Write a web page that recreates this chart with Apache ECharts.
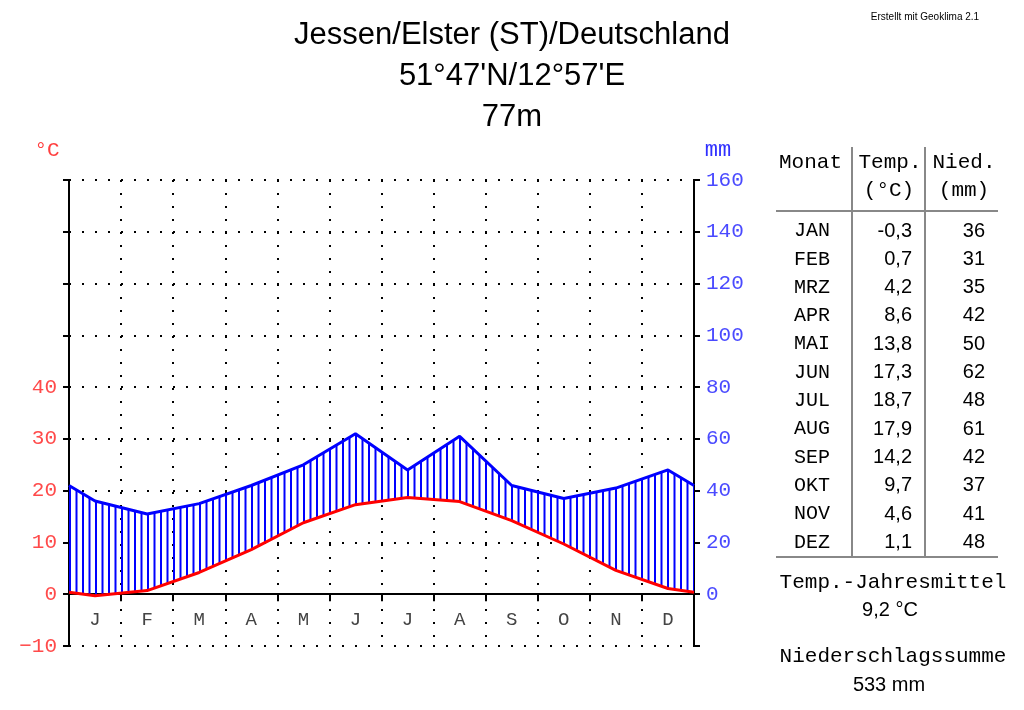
<!DOCTYPE html>
<html>
<head>
<meta charset="utf-8">
<script src="https://cdn.jsdelivr.net/npm/echarts@6/dist/echarts.min.js"></script>
<style>
  html, body { margin: 0; padding: 0; background: #fff; }
  #chart { width: 1024px; height: 710px; }
</style>
</head>
<body>
<div id="chart"></div>
<script>
// climate data (Walter-Lieth)
const monthLetters = ['J', 'F', 'M', 'A', 'M', 'J', 'J', 'A', 'S', 'O', 'N', 'D'];
const monthNames = ['JAN', 'FEB', 'MRZ', 'APR', 'MAI', 'JUN', 'JUL', 'AUG', 'SEP', 'OKT', 'NOV', 'DEZ'];
const temps = [-0.3, 0.7, 4.2, 8.6, 13.8, 17.3, 18.7, 17.9, 14.2, 9.7, 4.6, 1.1];
const precs = [36, 31, 35, 42, 50, 62, 48, 61, 42, 37, 41, 48];
// values at the left/right edge of the diagram
const edgeTemp = 0.4;
const edgePrec = 42;
const tempTicks = [-10, 0, 10, 20, 30, 40];

const mono = 'Liberation Mono';
const sans = 'Liberation Sans';

// x positions: edge, month centres, edge
function withEdges(vals, edge) {
  const out = [[0, edge]];
  vals.forEach((v, i) => out.push([i + 0.5, v]));
  out.push([12, edge]);
  return out;
}
const tempPts = withEdges(temps, edgeTemp);
const precPts = withEdges(precs.map(p => p / 2), edgePrec / 2); // 20 mm = 10 °C

// vertical hatch pattern
const hatch = document.createElement('canvas');
hatch.width = 13;
hatch.height = 4;
const hctx = hatch.getContext('2d');
hctx.fillStyle = '#0000ff';
hctx.fillRect(4, 0, 2, 4);
hctx.fillRect(10.5, 0, 2, 4);

const dotted = { color: '#000', width: 2, type: [2, 11], cap: 'butt' };

// table + summary text
const graphic = [];
function txt(x, y, text, font, size, align, color) {
  graphic.push({
    type: 'text', x: x, y: y,
    style: { text: text, fontFamily: font, fontSize: size, fill: color || '#000',
      align: align || 'center', verticalAlign: 'middle' }
  });
}
function line(x1, y1, x2, y2) {
  graphic.push({
    type: 'line', shape: { x1: x1, y1: y1, x2: x2, y2: y2 },
    style: { stroke: '#888', lineWidth: 2 }
  });
}
txt(47, 150, '°C', mono, 21, 'center', '#ff4040');
txt(718, 150, 'mm', mono, 22, 'center', '#3030ff');
txt(925, 17, 'Erstellt mit Geoklima 2.1', sans, 10);

txt(779, 162, 'Monat', mono, 21, 'left');
txt(890, 162, 'Temp.', mono, 21);
txt(964, 162, 'Nied.', mono, 21);
txt(889, 190, '(°C)', mono, 21);
txt(964, 190, '(mm)', mono, 21);
line(852, 147, 852, 557);
line(925, 147, 925, 557);
line(776, 211, 998, 211);
line(776, 557, 998, 557);
monthNames.forEach((m, i) => {
  const y = 231 + i * 28.3;
  txt(812, y, m, mono, 20);
  txt(912, y, temps[i].toFixed(1).replace('.', ','), sans, 20, 'right');
  txt(985, y, String(precs[i]), sans, 20, 'right');
});
const meanTemp = temps.reduce((a, b) => a + b, 0) / temps.length;
const sumPrec = precs.reduce((a, b) => a + b, 0);
txt(893, 582, 'Temp.-Jahresmittel', mono, 21);
txt(890, 610, meanTemp.toFixed(1).replace('.', ',') + ' °C', sans, 20);
txt(893, 656, 'Niederschlagssumme', mono, 21);
txt(889, 685, sumPrec + ' mm', sans, 20);

// hatched humid area between precipitation and temperature curves
function renderHumid(params, api) {
  if (params.dataIndex !== 0) return null;
  const pts = precPts.map(p => api.coord(p))
    .concat(tempPts.slice().reverse().map(p => api.coord(p)));
  return {
    type: 'polygon',
    shape: { points: pts },
    style: { fill: { image: hatch, repeat: 'repeat' }, stroke: null }
  };
}

const chart = echarts.init(document.getElementById('chart'));
chart.setOption({
  backgroundColor: '#fff',
  animation: false,
  title: {
    text: "Jessen/Elster (ST)/Deutschland\n51°47'N/12°57'E\n77m",
    left: 'center',
    top: 10,
    textStyle: { fontFamily: sans, fontSize: 31, fontWeight: 'normal', color: '#000', lineHeight: 41 }
  },
  grid: { left: 69, right: 330, top: 180, bottom: 64, containLabel: false },
  xAxis: [
    {
      type: 'value', min: 0, max: 12, interval: 1, position: 'bottom',
      axisLine: { show: true, onZero: true, lineStyle: { color: '#000', width: 2 } },
      axisTick: { show: true, length: 7, lineStyle: { color: '#000', width: 2 } },
      axisLabel: { show: false },
      splitLine: { show: false }
    },
    {
      type: 'category', position: 'bottom',
      data: monthLetters,
      boundaryGap: true,
      axisLine: { show: false },
      axisTick: { show: false },
      axisLabel: { inside: true, margin: 17, color: '#444', fontFamily: mono, fontSize: 19 },
      splitLine: { show: true, lineStyle: dotted }
    }
  ],
  yAxis: [
    {
      type: 'value', min: -10, max: 80, interval: 10,
      axisLine: { show: true, onZero: false, lineStyle: { color: '#000', width: 2 } },
      axisTick: { show: true, length: 6, lineStyle: { color: '#000', width: 2 } },
      axisLabel: {
        margin: 12, color: '#ff4a4a', fontFamily: mono, fontSize: 21,
        formatter: v => tempTicks.indexOf(v) >= 0 ? String(v).replace('-', '−') : ''
      },
      splitLine: { show: true, lineStyle: dotted }
    },
    {
      type: 'value', min: -20, max: 160, interval: 20, position: 'right',
      axisLine: { show: true, onZero: false, lineStyle: { color: '#000', width: 2 } },
      axisTick: { show: true, length: 6, lineStyle: { color: '#000', width: 2 } },
      axisLabel: {
        margin: 12, color: '#4a4aff', fontFamily: mono, fontSize: 21,
        formatter: v => v >= 0 ? String(v) : ''
      },
      splitLine: { show: false }
    }
  ],
  graphic: graphic,
  series: [
    {
      type: 'custom', xAxisIndex: 0, yAxisIndex: 0, data: tempPts,
      renderItem: renderHumid, silent: true, z: 2
    },
    {
      type: 'line', xAxisIndex: 0, yAxisIndex: 0, data: precPts, symbol: 'none',
      lineStyle: { color: '#0000ff', width: 3 }, z: 3
    },
    {
      type: 'line', xAxisIndex: 0, yAxisIndex: 0, data: tempPts, symbol: 'none',
      lineStyle: { color: '#ff0000', width: 3 }, z: 4
    }
  ]
});
</script>
</body>
</html>
